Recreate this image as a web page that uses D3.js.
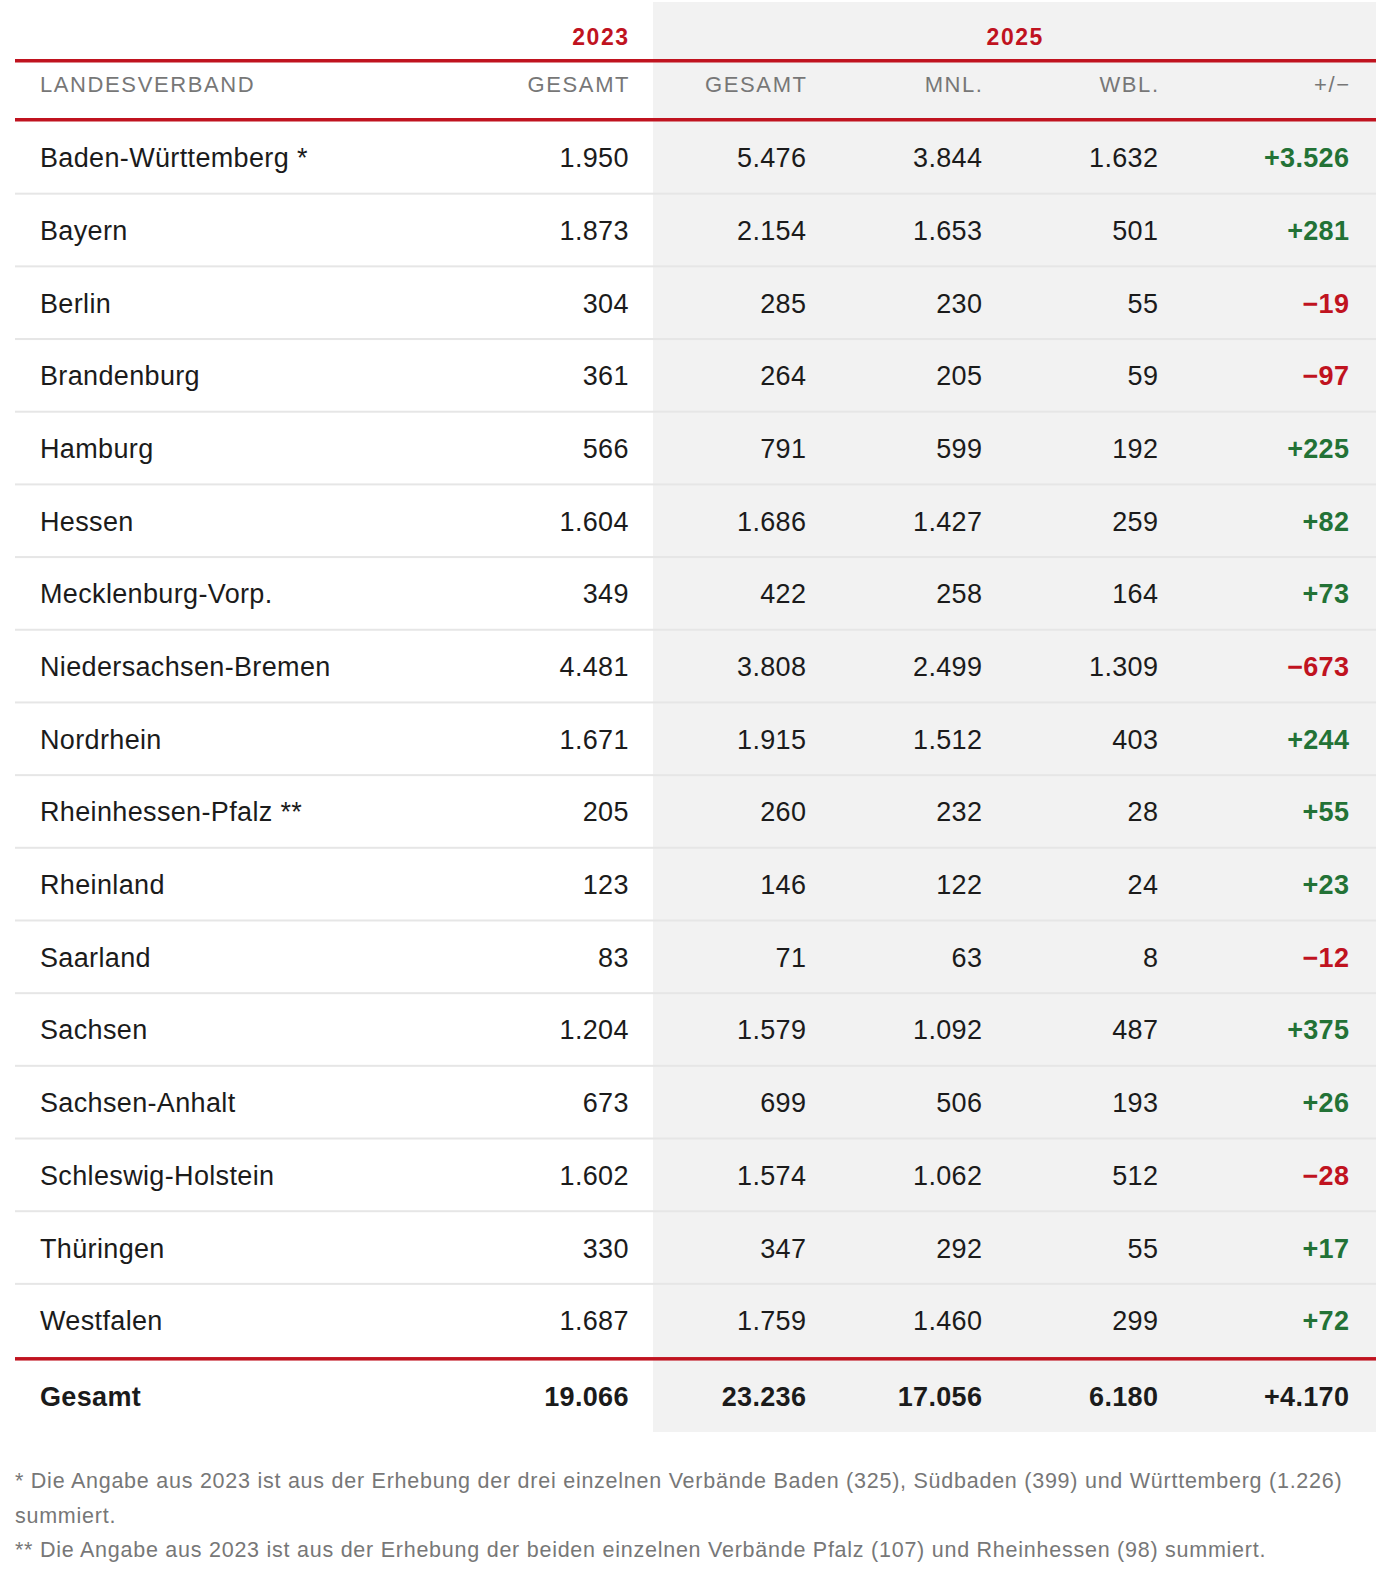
<!DOCTYPE html>
<html>
<head>
<meta charset="utf-8">
<script src="https://cdn.jsdelivr.net/npm/d3@7/dist/d3.min.js"></script>
<style>
  html, body { margin: 0; padding: 0; background: #fff; }
  svg { display: block; font-family: "Liberation Sans", Arial, Helvetica, sans-serif; }
</style>
</head>
<body>
<svg id="chart" width="1376" height="1580"></svg>
<script>
const landesverbaende = ["Baden-Württemberg *", "Bayern", "Berlin", "Brandenburg", "Hamburg", "Hessen",
  "Mecklenburg-Vorp.", "Niedersachsen-Bremen", "Nordrhein", "Rheinhessen-Pfalz **", "Rheinland",
  "Saarland", "Sachsen", "Sachsen-Anhalt", "Schleswig-Holstein", "Thüringen", "Westfalen"];
const gesamt2023 = [1950, 1873, 304, 361, 566, 1604, 349, 4481, 1671, 205, 123, 83, 1204, 673, 1602, 330, 1687];
const gesamt2025 = [5476, 2154, 285, 264, 791, 1686, 422, 3808, 1915, 260, 146, 71, 1579, 699, 1574, 347, 1759];
const mnl2025 = [3844, 1653, 230, 205, 599, 1427, 258, 2499, 1512, 232, 122, 63, 1092, 506, 1062, 292, 1460];
const wbl2025 = [1632, 501, 55, 59, 192, 259, 164, 1309, 403, 28, 24, 8, 487, 193, 512, 55, 299];
const diff = [3526, 281, -19, -97, 225, 82, 73, -673, 244, 55, 23, -12, 375, 26, -28, 17, 72];
const totalRow = { label: "Gesamt", g23: 19066, g25: 23236, mnl: 17056, wbl: 6180, diff: 4170 };
const yearLabels = ["2023", "2025"];
const headerLabels = ["LANDESVERBAND", "GESAMT", "GESAMT", "MNL.", "WBL.", "+/\u2212"];
const footnotes = [
  "* Die Angabe aus 2023 ist aus der Erhebung der drei einzelnen Verbände Baden (325), Südbaden (399) und Württemberg (1.226)",
  "summiert.",
  "** Die Angabe aus 2023 ist aus der Erhebung der beiden einzelnen Verbände Pfalz (107) und Rheinhessen (98) summiert."
];

const RED = "#c0131f", GREEN = "#237236", TEXT = "#1b1b1b", GREY = "#777777";
const svg = d3.select("#chart");
const W = 1376, left = 15;

const loc = d3.formatLocale({ decimal: ",", thousands: ".", grouping: [3], currency: ["", ""], minus: "\u2212" });
const fmt = loc.format(",d");
const fmtSigned = v => (v > 0 ? "+" : "") + fmt(v);

const rows = landesverbaende.map((name, i) => ({
  label: name, g23: gesamt2023[i], g25: gesamt2025[i], mnl: mnl2025[i], wbl: wbl2025[i], diff: diff[i]
}));

const headTop = 121.5, rowH = 72.68;
const y = d3.scaleBand().domain(d3.range(rows.length)).range([headTop, headTop + rowH * rows.length]).padding(0);

// column right edges
const colKeys = ["g23", "g25", "mnl", "wbl", "diff"];
const x = d3.scaleOrdinal().domain(colKeys).range([628.5, 806, 982, 1158, 1349]);

const FS = 27, LS = 0.35;

// grey background for 2025 block
const totalTop = y.range()[1] + 4;
svg.append("rect").attr("x", 653).attr("y", 2).attr("width", W - 653).attr("height", totalTop + 71 - 2)
  .attr("fill", "#f2f2f2");

// year labels
svg.append("text").attr("x", 628 + 1.5).attr("y", 44.5).attr("text-anchor", "end")
  .attr("font-size", 23).attr("font-weight", "bold").attr("letter-spacing", 1.5).attr("fill", RED)
  .text(yearLabels[0]);
svg.append("text").attr("x", (653 + W) / 2 + 0.7).attr("y", 44.5).attr("text-anchor", "middle")
  .attr("font-size", 23).attr("font-weight", "bold").attr("letter-spacing", 1.5).attr("fill", RED)
  .text(yearLabels[1]);

// red rules
svg.append("rect").attr("x", left).attr("y", 59).attr("width", W - left).attr("height", 3.5).attr("fill", RED);
svg.append("rect").attr("x", left).attr("y", 118).attr("width", W - left).attr("height", 3.5).attr("fill", RED);

// header labels
const hx = [40, 628.5, 806, 982, 1158, 1349];
const HLS = 1.6;
headerLabels.forEach((t, i) => {
  svg.append("text").attr("x", i === 0 ? hx[i] : hx[i] + HLS).attr("y", 92)
    .attr("text-anchor", i === 0 ? "start" : "end")
    .attr("font-size", 22).attr("letter-spacing", HLS).attr("fill", GREY).text(t);
});

// rows
const g = svg.append("g");
const rowG = g.selectAll("g.row").data(rows).join("g").attr("class", "row")
  .attr("transform", (d, i) => `translate(0,${y(i)})`);

rowG.filter((d, i) => i < rows.length - 1).append("rect")
  .attr("x", left).attr("y", rowH - 1.5).attr("width", W - left).attr("height", 2).attr("fill", "#e6e6e6");

const baseOff = rowH / 2 + 9.5;
rowG.append("text").attr("x", 40).attr("y", baseOff).attr("font-size", FS).attr("letter-spacing", LS)
  .attr("fill", TEXT).text(d => d.label);
colKeys.forEach(k => {
  rowG.append("text").attr("x", x(k) + LS).attr("y", baseOff).attr("text-anchor", "end")
    .attr("font-size", FS).attr("letter-spacing", LS)
    .attr("font-weight", k === "diff" ? "bold" : "normal")
    .attr("fill", d => k === "diff" ? (d.diff >= 0 ? GREEN : RED) : TEXT)
    .text(d => k === "diff" ? fmtSigned(d.diff) : fmt(d[k]));
});

// total rule + row
const rEnd = y.range()[1];
svg.append("rect").attr("x", left).attr("y", rEnd).attr("width", W - left).attr("height", 3.5).attr("fill", RED);
const tg = svg.append("g").attr("transform", `translate(0,${totalTop})`);
const tBase = 71 / 2 + 9.5;
tg.append("text").attr("x", 40).attr("y", tBase).attr("font-size", FS).attr("letter-spacing", LS)
  .attr("font-weight", "bold").attr("fill", TEXT).text(totalRow.label);
colKeys.forEach(k => {
  tg.append("text").attr("x", x(k) + LS).attr("y", tBase).attr("text-anchor", "end")
    .attr("font-size", FS).attr("letter-spacing", LS).attr("font-weight", "bold").attr("fill", TEXT)
    .text(k === "diff" ? fmtSigned(totalRow.diff) : fmt(totalRow[k]));
});

// footnotes
svg.selectAll("text.fn").data(footnotes).join("text").attr("class", "fn")
  .attr("x", 15).attr("y", (d, i) => 1488 + i * 34.5)
  .attr("font-size", 21.5).attr("letter-spacing", 0.75).attr("fill", GREY).text(d => d);
</script>
</body>
</html>
